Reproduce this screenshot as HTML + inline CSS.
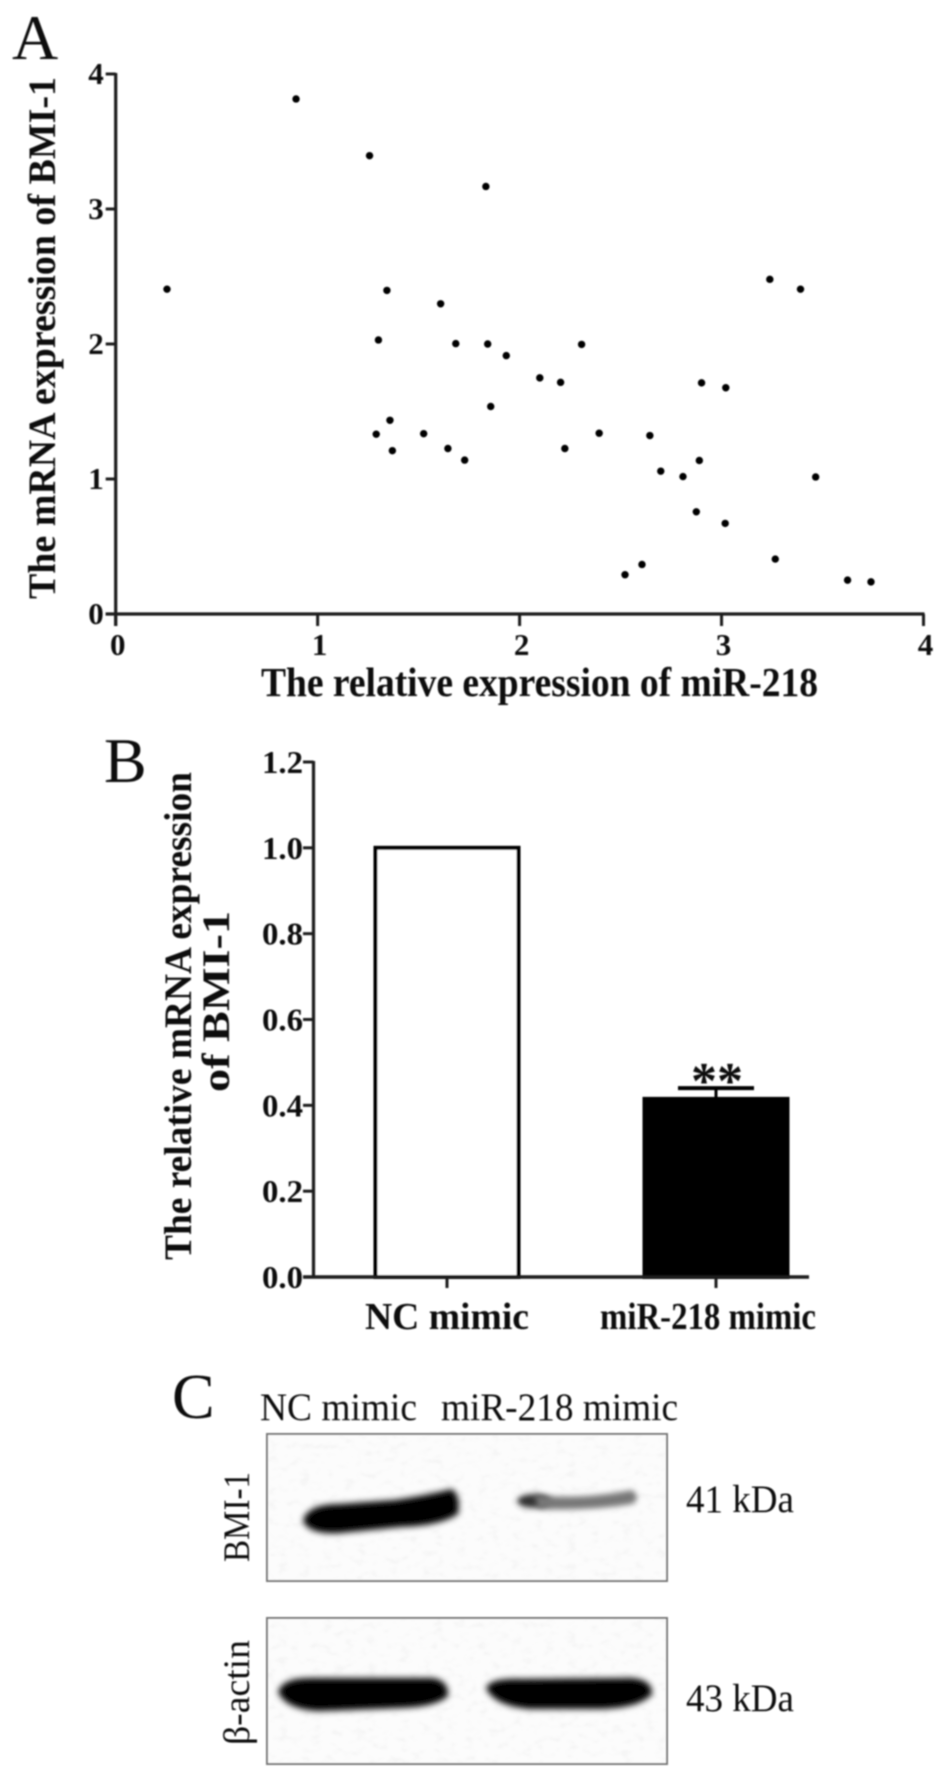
<!DOCTYPE html>
<html lang="en">
<head>
<meta charset="utf-8">
<title>miR-218 and BMI-1 expression figure</title>
<style>
html,body{margin:0;padding:0;background:#fff;width:945px;height:1781px;overflow:hidden}
svg{display:block}
text{font-family:"Liberation Serif","DejaVu Serif",serif;fill:#111}
.bold{font-weight:bold}
</style>
</head>
<body>
<svg id="figure" xmlns="http://www.w3.org/2000/svg" width="945" height="1781" viewBox="0 0 945 1781">
<defs>
<filter id="soft" x="-5%" y="-5%" width="110%" height="110%"><feGaussianBlur stdDeviation="0.8"/></filter>
<filter id="band" x="-20%" y="-80%" width="140%" height="260%"><feGaussianBlur stdDeviation="3.2"/></filter>
<filter id="faint" x="-20%" y="-100%" width="140%" height="300%"><feGaussianBlur stdDeviation="3"/></filter>
<filter id="grain" x="0" y="0" width="100%" height="100%">
<feTurbulence type="fractalNoise" baseFrequency="0.09 0.14" numOctaves="2" seed="4"/>
<feColorMatrix type="matrix" values="0 0 0 0 0.45  0 0 0 0 0.45  0 0 0 0 0.45  1.1 0 0 0 -0.56"/>
</filter>
</defs>

<g id="layer" filter="url(#soft)">
<text x="12" y="59" font-size="64">A</text>
<g id="chartA"></g>
<text class="bold" x="261" y="696" font-size="41" textLength="557" lengthAdjust="spacingAndGlyphs">The relative expression of miR-218</text>
<text class="bold" transform="translate(55,599) rotate(-90)" font-size="39" textLength="522" lengthAdjust="spacingAndGlyphs">The mRNA expression of BMI-1</text>

<text x="104" y="782" font-size="64">B</text>
<g id="chartB"></g>
<text class="bold" transform="translate(191,1260) rotate(-90)" font-size="39" textLength="488" lengthAdjust="spacingAndGlyphs">The relative mRNA expression</text>
<text class="bold" transform="translate(229,1092) rotate(-90)" font-size="39" textLength="181" lengthAdjust="spacingAndGlyphs">of BMI-1</text>

<text x="172" y="1418" font-size="64">C</text>
<text x="260" y="1420" font-size="39" textLength="157" lengthAdjust="spacingAndGlyphs">NC mimic</text>
<text x="441" y="1420" font-size="39" textLength="237" lengthAdjust="spacingAndGlyphs">miR-218 mimic</text>

<g>
<rect x="267" y="1434" width="400" height="147" fill="#fcfcfc" stroke="#777" stroke-width="2"/>
<rect x="268" y="1435" width="398" height="145" filter="url(#grain)" opacity="0.25"/>
<path filter="url(#band)" fill="#000" d="M303,1521 Q307,1504 340,1504 L395,1500 Q428,1495 452,1489 Q461,1496 458,1514 Q440,1526 400,1527 L340,1533 Q309,1535 303,1521Z"/>
<ellipse filter="url(#faint)" cx="534" cy="1501" rx="17" ry="7" fill="#333"/>
<path filter="url(#faint)" fill="#777" d="M535,1495 Q580,1500 632,1490 Q642,1498 632,1504 Q590,1511 538,1509Z"/>
</g>
<g>
<rect x="267" y="1618" width="400" height="146" fill="#fcfcfc" stroke="#777" stroke-width="2"/>
<rect x="268" y="1619" width="398" height="144" filter="url(#grain)" opacity="0.25"/>
<path filter="url(#band)" fill="#000" d="M278,1692 Q282,1678 310,1678 L432,1678 Q449,1680 448,1696 Q436,1707 400,1708 L320,1711 Q286,1710 278,1692Z"/>
<path filter="url(#band)" fill="#000" d="M486,1688 Q490,1678 520,1679 L632,1678 Q653,1680 652,1694 Q640,1708 600,1709 L530,1709 Q494,1706 486,1688Z"/>
</g>
<text x="686" y="1512" font-size="39" textLength="108" lengthAdjust="spacingAndGlyphs">41 kDa</text>
<text x="686" y="1711" font-size="39" textLength="108" lengthAdjust="spacingAndGlyphs">43 kDa</text>
<text transform="translate(249,1562) rotate(-90)" font-size="37" textLength="90" lengthAdjust="spacingAndGlyphs">BMI-1</text>
<text transform="translate(249,1745) rotate(-90)" font-size="37" textLength="105" lengthAdjust="spacingAndGlyphs">β-actin</text>
</g>
</svg>

<script>
// Scatter chart data (panel A)
const scatterX = [0.254,0.893,1.257,1.833,1.343,1.609,1.301,1.684,1.842,1.934,2.307,2.10,2.203,1.857,2.901,3.021,3.239,3.391,1.358,1.29,1.525,1.37,1.645,1.728,2.224,2.394,2.645,2.699,2.809,2.89,3.466,2.875,3.018,2.522,2.606,3.266,3.624,3.74];
const scatterY = [2.406,3.815,3.395,3.167,2.397,2.298,2.03,2.003,2.0,1.914,1.997,1.749,1.716,1.537,1.712,1.676,2.479,2.406,1.435,1.332,1.336,1.21,1.226,1.14,1.226,1.339,1.322,1.058,1.018,1.137,1.015,0.757,0.671,0.291,0.367,0.407,0.251,0.238];
const scatterXTicks = [0,1,2,3,4];
const scatterYTicks = [0,1,2,3,4];

// Bar chart data (panel B)
const barCategories = ["NC mimic","miR-218 mimic"];
const barValues = [1.0,0.415];
const barErrors = [0,0.025];
const barYTicks = ["0.0","0.2","0.4","0.6","0.8","1.0","1.2"];
const barSignificance = ["","**"];

const NS = "http://www.w3.org/2000/svg";
function make(tag, attrs, parent, content){
  const el = document.createElementNS(NS, tag);
  for (const k in attrs) el.setAttribute(k, attrs[k]);
  if (content !== undefined) el.textContent = content;
  parent.appendChild(el);
  return el;
}

// --- Panel A ---
const gA = document.getElementById("chartA");
const ax = v => 115.7 + (v / 4) * (923.5 - 115.7);
const ay = v => 614 - (v / 4) * (614 - 74);

const aYAxis = make("line",{x1:ax(0),x2:ax(0),y1:ay(4)-1,y2:ay(0)+12,stroke:"#1a1a1a","stroke-width":3.2},gA);


const aXAxis = make("line",{x1:ax(0)-10,x2:ax(4)+1,y1:ay(0),y2:ay(0),stroke:"#1a1a1a","stroke-width":3.2},gA);



scatterYTicks.forEach(t => {
  const tick = make("line",{x1:ax(0)-10,x2:ax(0),y1:ay(t),y2:ay(t),stroke:"#1a1a1a","stroke-width":3},gA);
  
  
  const label = make("text",{x:ax(0)-12,y:ay(t)+10,"font-size":31,"font-weight":"bold","text-anchor":"end"},gA,String(t));
  
  
});
scatterXTicks.forEach(t => {
  const tick = make("line",{x1:ax(t),x2:ax(t),y1:ay(0),y2:ay(0)+12,stroke:"#1a1a1a","stroke-width":3},gA);
  
  
  const label = make("text",{x:ax(t)+2,y:ay(0)+41,"font-size":31,"font-weight":"bold","text-anchor":"middle"},gA,String(t));
  
  
});
scatterX.forEach((v,i) => {
  const pt = make("circle",{cx:ax(v),cy:ay(scatterY[i]),r:3.7,fill:"#000"},gA);
  
  
});

// --- Panel B ---
const gB = document.getElementById("chartB");
const by = v => 1277 - (v / 1.2) * (1277 - 762);
const barCenters = i => 447 + i * 269;
const barWidth = 146;

barValues.forEach((v,i) => {
  const filled = i === 1;
  const bar = make("rect",{x:barCenters(i)-barWidth/2+1.5,y:by(v),width:barWidth-3,height:by(0)-by(v),fill:filled?"#000":"#fff",stroke:"#000","stroke-width":4},gB);
  
  
  if (barErrors[i] > 0) {
    const stem = make("line",{x1:barCenters(i),x2:barCenters(i),y1:by(v),y2:by(v+barErrors[i]),stroke:"#000","stroke-width":3},gB);
    
    
    const cap = make("line",{x1:barCenters(i)-38,x2:barCenters(i)+38,y1:by(v+barErrors[i]),y2:by(v+barErrors[i]),stroke:"#000","stroke-width":4},gB);
    
    
  }
  if (barSignificance[i]) {
    const sig = make("text",{x:barCenters(i)+1,y:by(v+barErrors[i])+10,"font-size":52,"font-weight":"bold","text-anchor":"middle",fill:"#333"},gB,barSignificance[i]);
    
    
  }
  const tick = make("line",{x1:barCenters(i),x2:barCenters(i),y1:by(0),y2:by(0)+11,stroke:"#1a1a1a","stroke-width":3},gB);
  
  
  const label = make("text",{x:barCenters(i)-(i===1?8:0),y:1329,"font-size":38,"font-weight":"bold","text-anchor":"middle",textLength:i===0?164:216,lengthAdjust:"spacingAndGlyphs"},gB,barCategories[i]);
  
  
});
const bYAxis = make("line",{x1:313.5,x2:313.5,y1:by(1.2)-1,y2:by(0)+1,stroke:"#1a1a1a","stroke-width":3.2},gB);


const bXAxis = make("line",{x1:303,x2:809,y1:by(0),y2:by(0),stroke:"#1a1a1a","stroke-width":3.6},gB);


barYTicks.forEach(t => {
  const tick = make("line",{x1:303,x2:313.5,y1:by(+t),y2:by(+t),stroke:"#1a1a1a","stroke-width":3},gB);
  
  
  const label = make("text",{x:303,y:by(+t)+11,"font-size":32,"font-weight":"bold","text-anchor":"end",textLength:41,lengthAdjust:"spacingAndGlyphs"},gB,t);
  
  
});
</script>
</body>
</html>
